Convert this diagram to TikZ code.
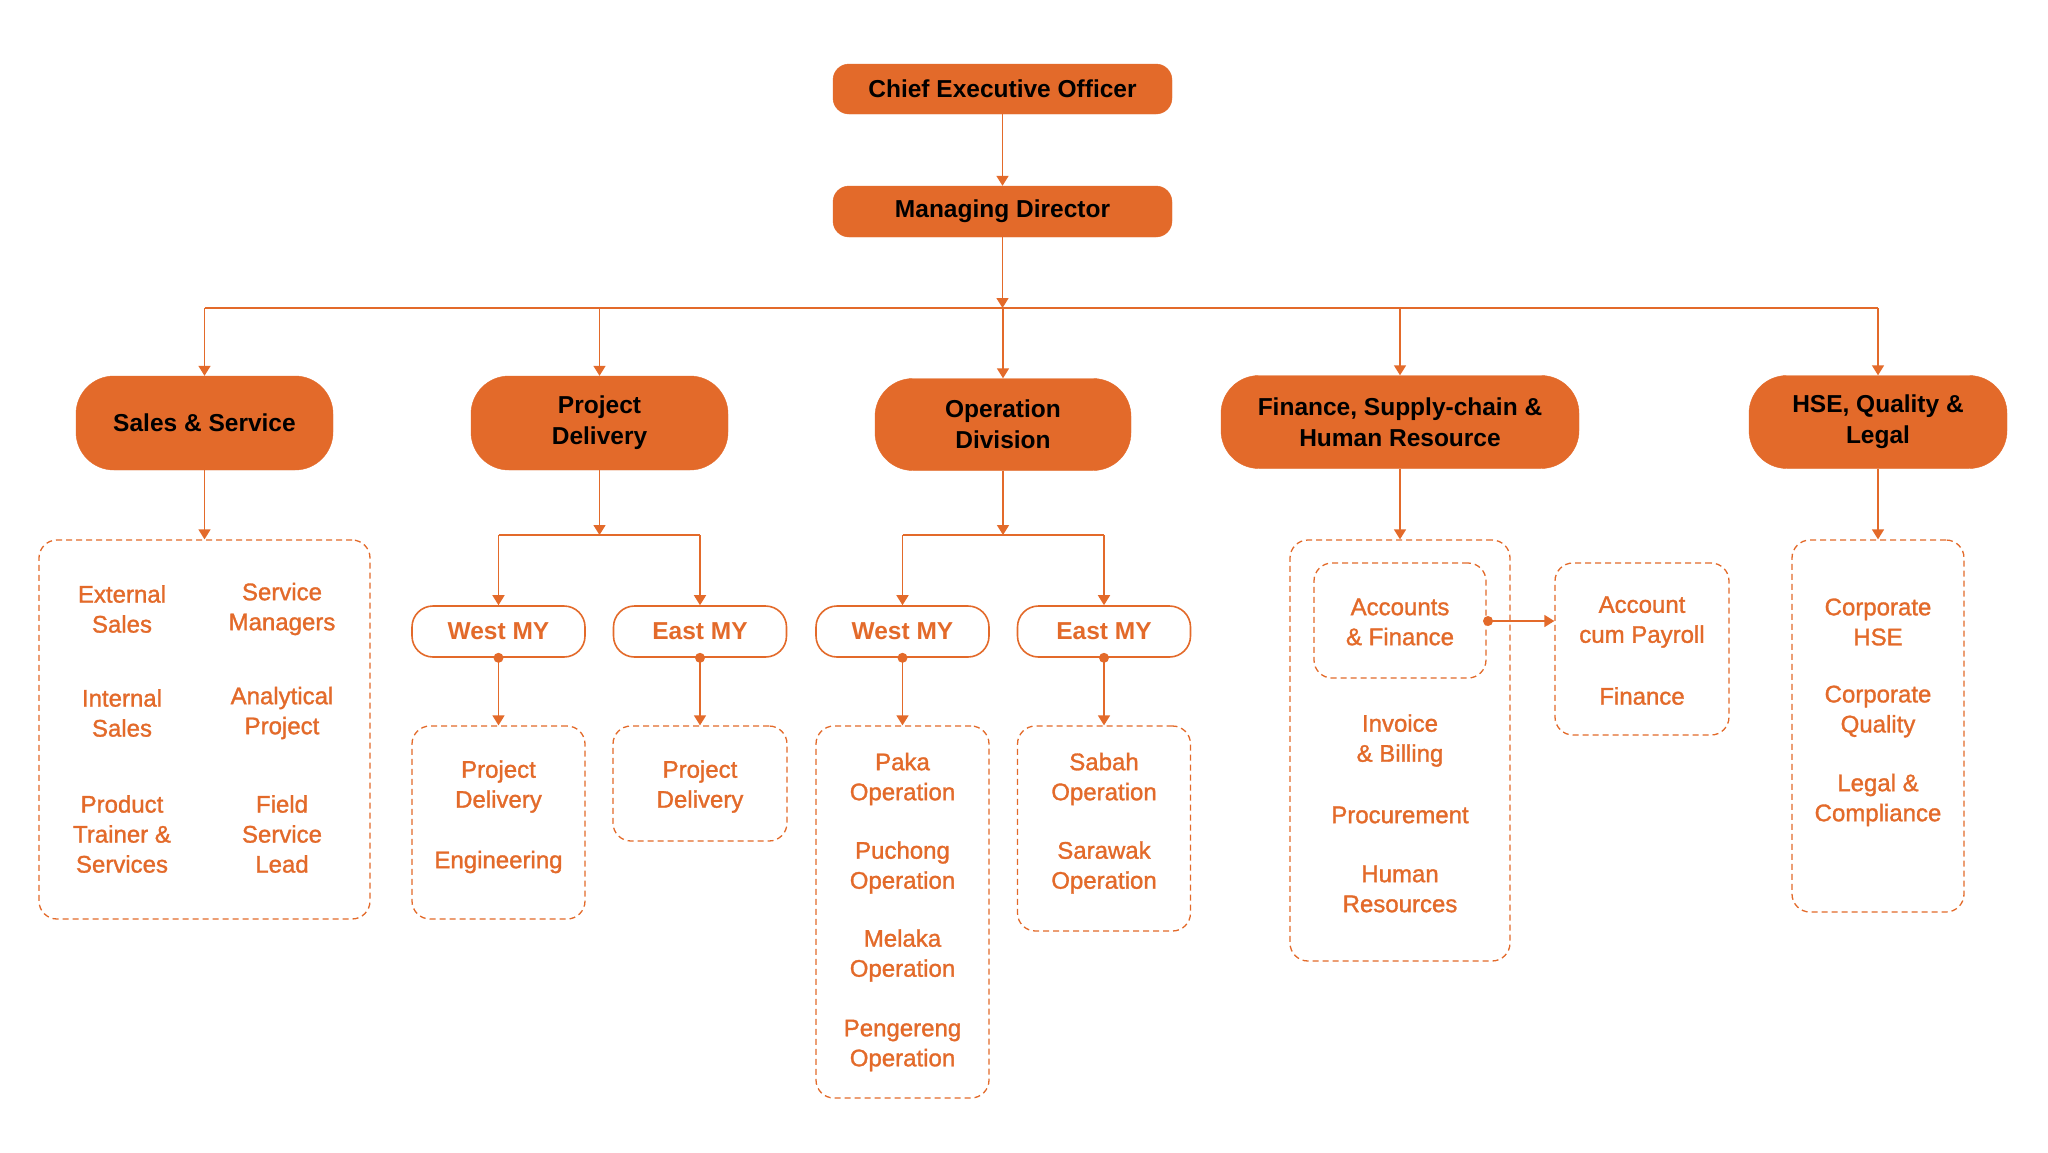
\documentclass[tikz,border=0pt]{standalone}
\usepackage{fontspec}
\setmainfont{Liberation Sans}
\newfontfamily\medfont{Liberation Sans}[FakeBold=1.3]
\usetikzlibrary{arrows.meta}
\definecolor{orng}{HTML}{E36A2A}
\begin{document}
\begin{tikzpicture}[x=1pt,y=-1pt,
  headbox/.style={fill=orng, draw=orng, rounded corners=38pt, align=center, inner sep=0pt,
    font=\bfseries\fontsize{24.5}{31}\selectfont, text=black},
  topbox/.style={headbox, rounded corners=16pt},
  mybox/.style={draw=orng, line width=1.6pt, fill=white, rounded corners=21pt, inner sep=0pt,
    minimum width=173pt, minimum height=51pt, text=orng, font=\bfseries\fontsize{24.5}{30}\selectfont},
  dbox/.style={draw=orng, line width=1.3pt, dash pattern=on 6pt off 4pt, rounded corners=18pt, inner sep=0pt},
  otext/.style={text=orng, align=center, inner sep=0pt, font=\medfont\fontsize{24}{30}\selectfont},
  conn/.style={draw=orng, line width=1.5pt},
  arr/.style={conn, -{Triangle[width=12pt,length=10pt]}},
  dotc/.style={fill=orng, draw=none}
]
\useasboundingbox[fill=white] (0,0) rectangle (2048,1152);

% top level
\node[topbox, minimum width=339pt, minimum height=50pt] (ceo) at (1002.5,89) {Chief Executive Officer};
\node[topbox, minimum width=339pt, minimum height=51pt] (md) at (1002.5,211.5) {Managing Director};

% heads
\node[headbox, minimum width=257pt, minimum height=94pt] (sales) at (204.5,423) {Sales \& Service};
\node[headbox, minimum width=257pt, minimum height=94pt] (pd) at (599.5,423) {Project\\Delivery};
\node[headbox, minimum width=256pt, minimum height=92pt] (op) at (1003,424.5) {Operation\\Division};
\node[headbox, minimum width=358pt, minimum height=93pt] (fin) at (1400,422) {Finance, Supply-chain \&\\Human Resource};
\node[headbox, minimum width=258pt, minimum height=93pt] (hse) at (1878,422) {HSE, Quality \&\\Legal};

\coordinate (bus) at (1003,308);
\draw[arr] (md.south) -- (md.south |- bus);
\draw[conn] (sales.north |- bus) -- (hse.north |- bus);
\foreach \n in {sales,pd,op,fin,hse} {
  \draw[arr] (\n.north |- bus) -- (\n.north);
}

% Sales & Service
\node[dbox, minimum width=331pt, minimum height=379pt] (salesd) at (204.5,729.5) {};
\draw[arr] (sales.south) -- (salesd.north);
\node[otext] (s1) at (122,609) {External\\Sales};
\node[otext] (s2) at (282,609) {Service\\Managers};
\node[otext] (s3) at (122,713) {Internal\\Sales};
\node[otext] (s4) at (282,713) {Analytical\\Project};
\node[otext] (s5) at (122,834) {Product\\Trainer \&\\Services};
\node[otext] (s6) at (282,834) {Field\\Service\\Lead};

% Project Delivery
\coordinate (pdbus) at (599.5,535);
\node[mybox] (pdw) at (498.5,631.5) {West MY};
\node[mybox] (pde) at (700,631.5) {East MY};
\draw[arr] (pd.south) -- (pdbus);
\draw[conn] (pdw.north |- pdbus) -- (pde.north |- pdbus);
\draw[arr] (pdw.north |- pdbus) -- (pdw.north);
\draw[arr] (pde.north |- pdbus) -- (pde.north);
\node[dbox, minimum width=173pt, minimum height=193pt] (pdwd) at (498.5,822.5) {};
\node[dbox, minimum width=174pt, minimum height=115pt] (pded) at (700,783.5) {};
\fill[dotc] (pdw.south) circle (5pt);
\fill[dotc] (pde.south) circle (5pt);
\draw[arr] (pdw.south) -- (pdwd.north);
\draw[arr] (pde.south) -- (pded.north);
\node[otext] (p1) at (498.5,786.5) {Project\\Delivery};
\node[otext] (p2) at (498.5,862) {Engineering};
\node[otext] (p3) at (700,786.5) {Project\\Delivery};

% Operation Division
\coordinate (opbus) at (1003,535);
\node[mybox] (opw) at (902.5,631.5) {West MY};
\node[mybox] (ope) at (1104,631.5) {East MY};
\draw[arr] (op.south) -- (opbus);
\draw[conn] (opw.north |- opbus) -- (ope.north |- opbus);
\draw[arr] (opw.north |- opbus) -- (opw.north);
\draw[arr] (ope.north |- opbus) -- (ope.north);
\node[dbox, minimum width=173pt, minimum height=372pt] (opwd) at (902.5,912) {};
\node[dbox, minimum width=173pt, minimum height=205pt] (oped) at (1104,828.5) {};
\fill[dotc] (opw.south) circle (5pt);
\fill[dotc] (ope.south) circle (5pt);
\draw[arr] (opw.south) -- (opwd.north);
\draw[arr] (ope.south) -- (oped.north);
\node[otext] (o1) at (902.5,779) {Paka\\Operation};
\node[otext] (o2) at (902.5,867.5) {Puchong\\Operation};
\node[otext] (o3) at (902.5,955.5) {Melaka\\Operation};
\node[otext] (o4) at (902.5,1045.5) {Pengereng\\Operation};
\node[otext] (o5) at (1104,779) {Sabah\\Operation};
\node[otext] (o6) at (1104,867.5) {Sarawak\\Operation};

% Finance
\node[dbox, minimum width=220pt, minimum height=421pt] (find) at (1400,750.5) {};
\node[dbox, minimum width=172pt, minimum height=115pt] (accd) at (1400,620.5) {};
\node[dbox, minimum width=174pt, minimum height=172pt] (payd) at (1642,649) {};
\draw[arr] (fin.south) -- (find.north);
\coordinate (accpt) at (1488,621);
\fill[dotc] (accpt) circle (5pt);
\draw[arr] (accpt) -- (accpt -| payd.west);
\node[otext] (f1) at (1400,622) {Accounts\\\& Finance};
\node[otext] (f2) at (1400,740.5) {Invoice\\\& Billing};
\node[otext] (f3) at (1400,815) {Procurement};
\node[otext] (f4) at (1400,889) {Human\\Resources};
\node[otext] (f5) at (1642,622) {Account\\cum Payroll};
\node[otext] (f6) at (1642,696) {Finance};

% HSE
\node[dbox, minimum width=172pt, minimum height=372pt] (hsed) at (1878,726) {};
\draw[arr] (hse.south) -- (hsed.north);
\node[otext] (h1) at (1878,622) {Corporate\\HSE};
\node[otext] (h2) at (1878,711.5) {Corporate\\Quality};
\node[otext] (h3) at (1878,800) {Legal \&\\Compliance};

% CEO to MD
\draw[arr] (ceo.south) -- (md.north);
\end{tikzpicture}
\end{document}
